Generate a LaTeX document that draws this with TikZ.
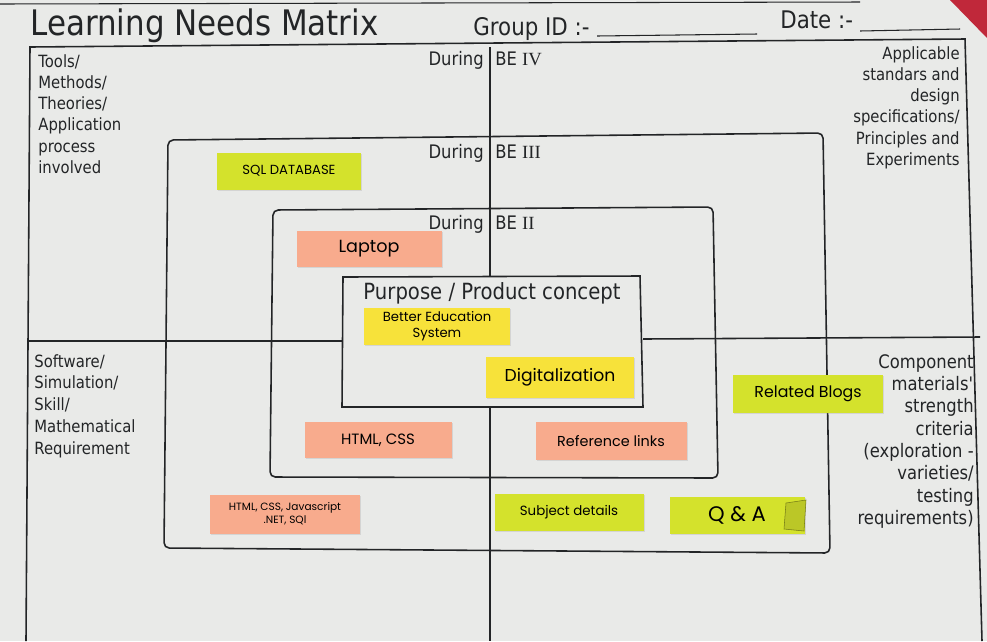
\documentclass[tikz,border=0pt]{standalone}
\usepackage{fontspec}
\setmainfont[FakeStretch=0.88]{DejaVu Sans}
\newfontfamily\numfont{Liberation Serif}
\newfontfamily\handfont{Poppins}
\usetikzlibrary{shadows}
\definecolor{Paper}   {HTML}{E9EAE8}
\definecolor{InkLine} {HTML}{232527}
\definecolor{Lime}    {HTML}{D4E22C}
\definecolor{Salmon}  {HTML}{F8AB8D}
\definecolor{Lemon}   {HTML}{F7E23A}
\definecolor{PinRed}  {HTML}{C0283A}
\newcommand{\rn}[1]{{\numfont #1}}

\begin{document}
\begin{tikzpicture}[
  x=0.2mm, y=-0.2mm,
  every node/.style={text=InkLine, inner sep=0pt},
  frame/.style={draw=InkLine, line width=0.9pt},
  ringbox/.style={frame, rounded corners=3pt},
  rule/.style={draw=InkLine, line width=0.6pt},
  hdr/.style={font=\fontsize{13.8}{16}\selectfont, anchor=base west},
  during/.style={font=\fontsize{10.6}{12}\selectfont, anchor=base east},
  stage/.style={font=\fontsize{10.6}{12}\selectfont, anchor=base west},
  side/.style={font=\fontsize{9.6}{12.1}\selectfont},
  note/.style={rectangle, text=black, align=center,
               drop shadow={opacity=0.2, shadow xshift=0.6pt, shadow yshift=-0.8pt}},
]
  \useasboundingbox (0,0) rectangle (987,641);
  \fill[Paper] (0,0) rectangle (987,641);
  \fill[PinRed] (950,0) -- (987,0) -- (987,38) -- cycle;

  % header
  \draw[rule] (0,4) -- (860,2);
  \node[font=\fontsize{20}{24}\selectfont, anchor=base west] (title) at (30,35) {Learning Needs Matrix};
  \node[hdr] (groupid) at (473,35) {Group ID :-};
  \node[hdr] (date) at (780,28) {Date :-};
  \draw[rule] (597,36) -- (757,34);
  \draw[rule] (860,31) -- (960,29);

  % outer frame and axes
  \draw[frame] (26,641) -- (30,47) -- (965,39) -- (982,641);
  \draw[frame] (490,47) -- (490,277);
  \draw[frame] (490,407) -- (490,641);
  \draw[frame] (28,341) -- (342,341);
  \draw[frame] (643,339) -- (980,337);

  % nested boxes
  \draw[ringbox] (168,140) -- (823,133) -- (830,553) -- (164,548) -- cycle;
  \draw[ringbox] (273,210) -- (713,207) -- (718,478) -- (270,477) -- cycle;
  \draw[frame] (343,277) -- (640,276) -- (643,407) -- (342,407) -- cycle;

  \node[during] (d4) at (484,65) {During};
  \node[stage]  (s4) at (495,65) {BE \rn{IV}};
  \node[during] (d3) at (484,158) {During};
  \node[stage]  (s3) at (495,158) {BE \rn{III}};
  \node[during] (d2) at (484,229) {During};
  \node[stage]  (s2) at (495,229) {BE \rn{II}};
  \node[font=\fontsize{12.7}{15}\selectfont, anchor=base] (purpose) at (492,299)
    {Purpose / Product concept};

  % quadrant labels
  \node[side, align=left, anchor=north west] (tools) at (38,54)
    {Tools/\\Methods/\\Theories/\\Application\\process\\involved};
  \node[side, align=right, anchor=north east] (stds) at (960,46)
    {Applicable\\standars and\\design\\specifications/\\Principles and\\Experiments};
  \node[font=\fontsize{9.6}{12.4}\selectfont, align=left, anchor=north west] (soft) at (34,354)
    {Software/\\Simulation/\\Skill/\\Mathematical\\Requirement};
  \node[font=\fontsize{10.6}{12.7}\selectfont, align=right, anchor=north east] (comp) at (974,354)
    {Component\\materials\textquotesingle\\strength\\criteria\\(exploration -\\varieties/\\testing\\requirements)};

  % sticky notes
  \node[note, fill=Lime, minimum width=28.8mm, minimum height=7.4mm,
        font=\handfont\fontsize{7.5}{9}\selectfont] (sql) at (289,171) {SQL DATABASE};
  \node[note, fill=Salmon, minimum width=29mm, minimum height=7.2mm,
        font=\handfont\fontsize{10}{12}\selectfont] (laptop) at (369,249) {Laptop};
  \node[note, fill=Lemon, minimum width=29.2mm, minimum height=7.4mm,
        font=\handfont\fontsize{7.5}{9}\selectfont] (better) at (437,326) {Better Education\\System};
  \node[note, fill=Lemon, minimum width=29.6mm, minimum height=8.2mm,
        font=\handfont\fontsize{9.8}{12}\selectfont] (digital) at (560,377) {Digitalization};
  \node[note, fill=Lime, minimum width=30mm, minimum height=7.6mm,
        font=\handfont\fontsize{9}{11}\selectfont] (blogs) at (808,394) {Related Blogs};
  \node[note, fill=Salmon, minimum width=29.4mm, minimum height=7.2mm,
        font=\handfont\fontsize{8.5}{10}\selectfont] (html) at (378,440) {HTML, CSS};
  \node[note, fill=Salmon, minimum width=30.2mm, minimum height=7.6mm,
        font=\handfont\fontsize{8.2}{10}\selectfont] (reflinks) at (611,441) {Reference links};
  \node[note, fill=Salmon, minimum width=30mm, minimum height=7.8mm,
        font=\handfont\fontsize{6}{7.5}\selectfont] (webstack) at (285,514) {HTML, CSS, Javascript\\.NET, SQl};
  \node[note, fill=Lime, minimum width=29.8mm, minimum height=7.4mm,
        font=\handfont\fontsize{7.6}{9}\selectfont] (subject) at (569,512) {Subject details};
  \node[note, fill=Lime, minimum width=27mm, minimum height=7.4mm,
        font=\handfont\fontsize{12}{14}\selectfont] (qa) at (737,515) {Q \& A};
  \filldraw[fill=Lime!88!black, draw=Lime!55!black, line width=0.3pt]
    (786,503) -- (806,500) -- (804,531) -- (784,529) -- cycle;
\end{tikzpicture}
\end{document}
